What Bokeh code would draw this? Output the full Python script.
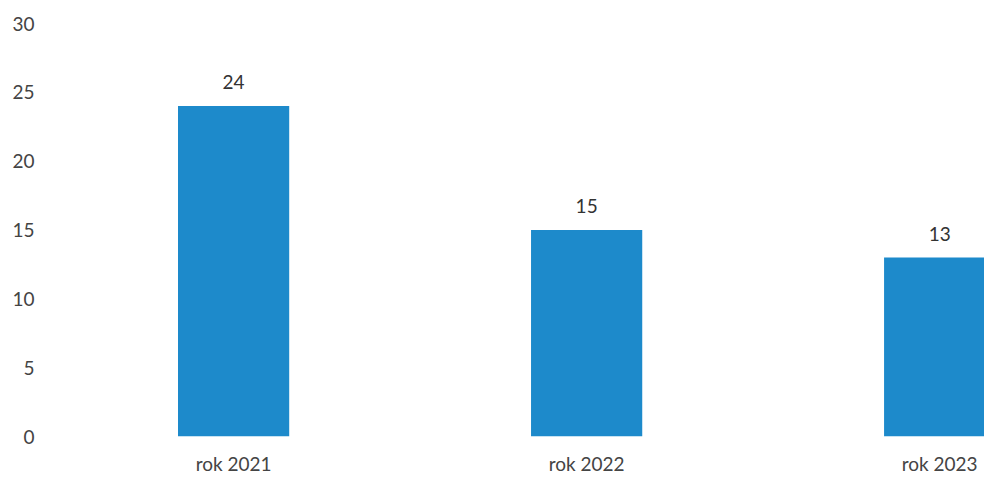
from bokeh.plotting import figure
from bokeh.models import ColumnDataSource, FixedTicker, Range1d
from bokeh.core.properties import value
from bokeh.embed import file_html
from bokeh.resources import INLINE

categories = ["rok 2021", "rok 2022", "rok 2023"]
values = [24, 15, 13]
y_ticks = [0, 5, 10, 15, 20, 25, 30]

xs = list(range(len(categories)))
src = ColumnDataSource(dict(x=xs, top=values, label=[str(v) for v in values]))

p = figure(width=984, height=477, output_backend="svg", toolbar_location=None,
           x_range=Range1d(-0.547, 2.127), y_range=Range1d(0, 30),
           min_border_left=40, min_border_right=0, min_border_top=23, min_border_bottom=41)
p.background_fill_color = None
p.border_fill_color = "white"
p.outline_line_color = None
p.grid.visible = False

p.vbar(x="x", top="top", bottom=0, width=0.315, source=src,
       fill_color="#1d8acb", line_color=None)
p.text(x="x", y="top", text="label", source=src, y_offset=-17,
       text_align="center", text_baseline="bottom",
       text_font=value("Lato"), text_font_size="19px", text_color="#333333")

p.yaxis.ticker = FixedTicker(ticks=y_ticks)
p.xaxis.ticker = FixedTicker(ticks=xs)
p.xaxis.major_label_overrides = {i: c for i, c in enumerate(categories)}
for ax in (p.xaxis, p.yaxis):
    ax.axis_line_color = None
    ax.major_tick_line_color = None
    ax.minor_tick_line_color = None
    ax.major_label_text_font = "Lato"
    ax.major_label_text_font_size = "19px"
    ax.major_label_text_color = "#444444"
p.yaxis.major_label_standoff = 0
p.xaxis.major_label_standoff = 9

open("out.html", "w").write(file_html(p, INLINE))
